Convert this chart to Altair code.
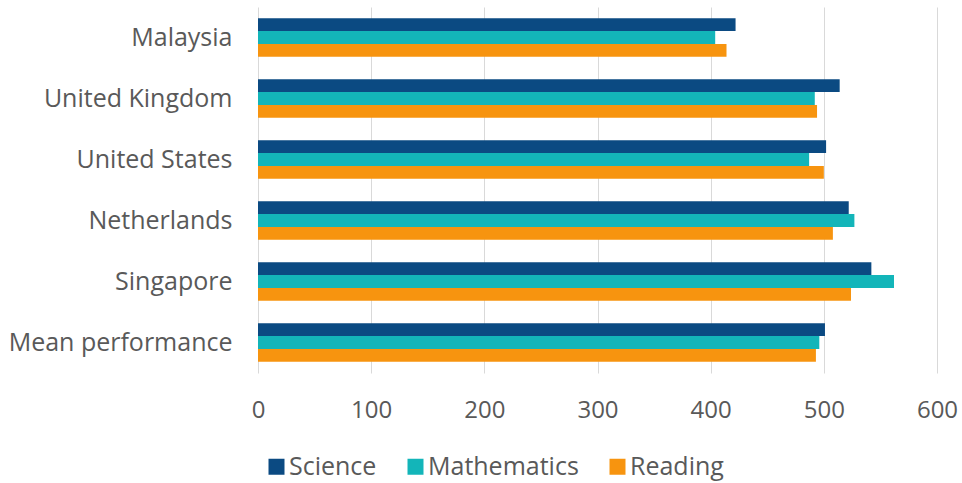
import altair as alt
import pandas as pd

categories = ["Malaysia", "United Kingdom", "United States", "Netherlands", "Singapore", "Mean performance"]
subjects = ["Science", "Mathematics", "Reading"]
science = [422, 514, 502, 522, 542, 501]
mathematics = [404, 492, 487, 527, 562, 496]
reading = [414, 494, 500, 508, 524, 493]
colors = ["#0b4a82", "#13b5b9", "#f7940f"]

rows = []
for i, c in enumerate(categories):
    for s, vals in zip(subjects, [science, mathematics, reading]):
        rows.append({"Country": c, "Subject": s, "Score": vals[i]})
df = pd.DataFrame(rows)

FONT = "Open Sans"
TEXT = "#595959"

chart = alt.Chart(df).mark_bar().encode(
    x=alt.X("Score:Q",
            scale=alt.Scale(domain=[0, 600], nice=False),
            axis=alt.Axis(values=[0, 100, 200, 300, 400, 500, 600], title=None,
                          grid=True, gridColor="#d9d9d9", domain=False, ticks=False,
                          labelFontSize=24, labelColor=TEXT, labelFont=FONT,
                          labelFlush=False, labelPadding=25)),
    y=alt.Y("Country:N", sort=categories,
            scale=alt.Scale(paddingInner=0.37, paddingOuter=0.185),
            axis=alt.Axis(title=None, domain=False, ticks=False, grid=False,
                          labelFontSize=25, labelColor=TEXT, labelFont=FONT,
                          labelPadding=26, labelLimit=300)),
    yOffset=alt.YOffset("Subject:N", sort=subjects,
                        scale=alt.Scale(paddingInner=0, paddingOuter=0)),
    color=alt.Color("Subject:N", sort=subjects,
                    scale=alt.Scale(domain=subjects, range=colors),
                    legend=alt.Legend(title=None, orient="none", direction="horizontal",
                                      legendX=6, legendY=447,
                                      symbolType="square", symbolSize=256,
                                      symbolStrokeWidth=0,
                                      labelFontSize=25, labelColor=TEXT, labelFont=FONT,
                                      labelOffset=0, columnPadding=26)),
).properties(
    width=679, height=366,
    background="white",
    padding={"left": 258, "top": 7, "right": 25, "bottom": 110},
    autosize=alt.AutoSizeParams(type="none"),
).configure_view(stroke=None)

chart.save("out.html", embed_options={"renderer": "svg", "actions": False})
